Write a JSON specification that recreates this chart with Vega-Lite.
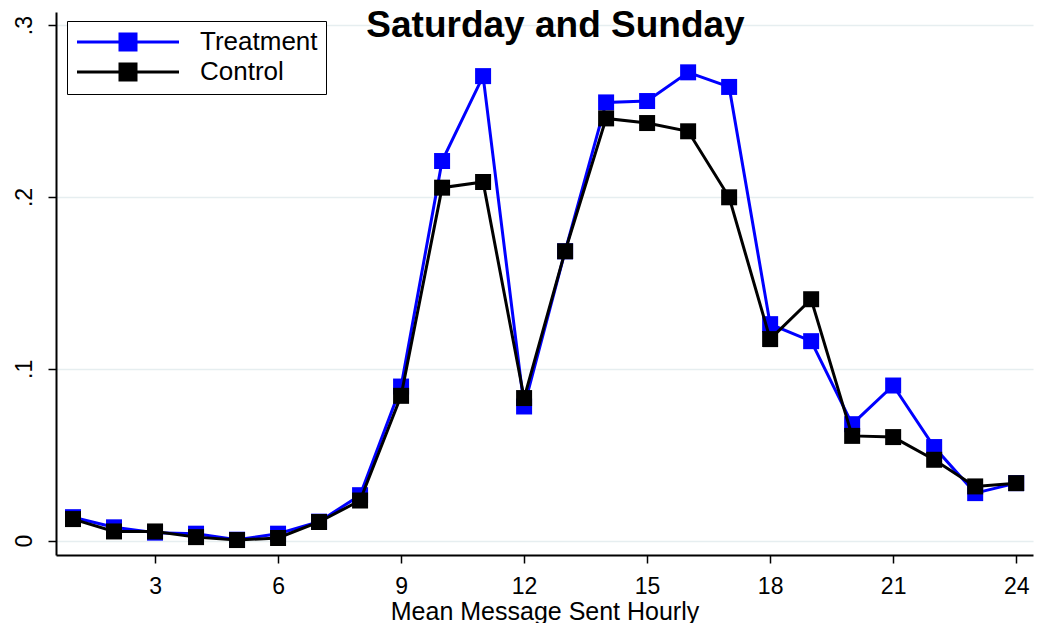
{
  "$schema": "https://vega.github.io/schema/vega-lite/v6.json",
  "width": 977,
  "height": 543,
  "autosize": {"type": "none"},
  "padding": {"left": 56, "top": 12, "right": 5, "bottom": 68},
  "background": "white",
  "config": {
    "view": {"stroke": null},
    "font": "Liberation Sans",
    "legend": {"labelFont": "Liberation Sans"}
  },
  "title": {
    "text": "Saturday and Sunday",
    "fontSize": 37,
    "fontWeight": "bold",
    "font": "Liberation Sans",
    "color": "black",
    "anchor": "middle",
    "offset": -33,
    "dx": 11
  },
  "data": {
    "values": [
      {"hour": 1, "group": "Treatment", "value": 0.0137},
      {"hour": 2, "group": "Treatment", "value": 0.0078},
      {"hour": 3, "group": "Treatment", "value": 0.0047},
      {"hour": 4, "group": "Treatment", "value": 0.0041},
      {"hour": 5, "group": "Treatment", "value": 0.0006},
      {"hour": 6, "group": "Treatment", "value": 0.0041},
      {"hour": 7, "group": "Treatment", "value": 0.0111},
      {"hour": 8, "group": "Treatment", "value": 0.0265},
      {"hour": 9, "group": "Treatment", "value": 0.0897},
      {"hour": 10, "group": "Treatment", "value": 0.2209},
      {"hour": 11, "group": "Treatment", "value": 0.2703},
      {"hour": 12, "group": "Treatment", "value": 0.0781},
      {"hour": 13, "group": "Treatment", "value": 0.1684},
      {"hour": 14, "group": "Treatment", "value": 0.255},
      {"hour": 15, "group": "Treatment", "value": 0.2558},
      {"hour": 16, "group": "Treatment", "value": 0.2725},
      {"hour": 17, "group": "Treatment", "value": 0.264},
      {"hour": 18, "group": "Treatment", "value": 0.126},
      {"hour": 19, "group": "Treatment", "value": 0.1161},
      {"hour": 20, "group": "Treatment", "value": 0.0678},
      {"hour": 21, "group": "Treatment", "value": 0.0903},
      {"hour": 22, "group": "Treatment", "value": 0.0545},
      {"hour": 23, "group": "Treatment", "value": 0.0277},
      {"hour": 24, "group": "Treatment", "value": 0.0335},
      {"hour": 1, "group": "Control", "value": 0.0126},
      {"hour": 2, "group": "Control", "value": 0.0054},
      {"hour": 3, "group": "Control", "value": 0.0054},
      {"hour": 4, "group": "Control", "value": 0.0021},
      {"hour": 5, "group": "Control", "value": 0.0004},
      {"hour": 6, "group": "Control", "value": 0.0016},
      {"hour": 7, "group": "Control", "value": 0.0109},
      {"hour": 8, "group": "Control", "value": 0.0234},
      {"hour": 9, "group": "Control", "value": 0.0843},
      {"hour": 10, "group": "Control", "value": 0.2054},
      {"hour": 11, "group": "Control", "value": 0.2087},
      {"hour": 12, "group": "Control", "value": 0.083},
      {"hour": 13, "group": "Control", "value": 0.1684},
      {"hour": 14, "group": "Control", "value": 0.2457},
      {"hour": 15, "group": "Control", "value": 0.243},
      {"hour": 16, "group": "Control", "value": 0.2382},
      {"hour": 17, "group": "Control", "value": 0.1998},
      {"hour": 18, "group": "Control", "value": 0.1173},
      {"hour": 19, "group": "Control", "value": 0.1405},
      {"hour": 20, "group": "Control", "value": 0.061},
      {"hour": 21, "group": "Control", "value": 0.0603},
      {"hour": 22, "group": "Control", "value": 0.0471},
      {"hour": 23, "group": "Control", "value": 0.0316},
      {"hour": 24, "group": "Control", "value": 0.0335}
    ]
  },
  "encoding": {
    "x": {
      "field": "hour",
      "type": "quantitative",
      "scale": {"domain": [0.585, 24.41], "nice": false, "zero": false},
      "axis": {
        "values": [3, 6, 9, 12, 15, 18, 21, 24],
        "title": "Mean Message Sent Hourly",
        "titleFont": "Liberation Sans",
        "titleFontSize": 25,
        "titleFontWeight": "normal",
        "titleColor": "black",
        "titlePadding": 1,
        "labelFont": "Liberation Sans",
        "labelFontSize": 23,
        "labelColor": "black",
        "labelPadding": 12,
        "labelOverlap": false,
        "tickSize": 8,
        "tickWidth": 1.5,
        "tickColor": "black",
        "domainColor": "black",
        "domainWidth": 2,
        "grid": false
      }
    },
    "y": {
      "field": "value",
      "type": "quantitative",
      "scale": {"domain": [-0.0083, 0.3076], "nice": false, "zero": false},
      "axis": {
        "values": [0, 0.1, 0.2, 0.3],
        "labelExpr": "datum.value == 0 ? '0' : replace(format(datum.value, '.1f'), '0.', '.')",
        "title": null,
        "labelFont": "Liberation Sans",
        "labelFontSize": 23,
        "labelColor": "black",
        "labelAngle": -90,
        "labelPadding": 12,
        "tickSize": 8,
        "tickWidth": 1.5,
        "tickColor": "black",
        "domainColor": "black",
        "domainWidth": 2,
        "grid": true,
        "gridColor": "#e6eef0",
        "gridWidth": 1.5
      }
    },
    "color": {
      "field": "group",
      "type": "nominal",
      "scale": {"domain": ["Treatment", "Control"], "range": ["#0000ff", "#000000"]},
      "legend": {
        "title": null,
        "orient": "none",
        "legendX": 11,
        "legendY": 9,
        "strokeColor": "black",
        "fillColor": "white",
        "padding": 8,
        "labelFontSize": 26,
        "labelColor": "black",
        "labelOffset": 59,
        "rowPadding": 2,
        "symbolType": "M-6.375,0H6.375M-1,-1H1V1H-1Z",
        "symbolSize": 256,
        "symbolOffset": 40,
        "symbolStrokeWidth": 3,
        "encode": {
          "symbols": {
            "update": {
              "fill": {"scale": "color", "field": "value"},
              "stroke": {"scale": "color", "field": "value"},
              "fillOpacity": {"value": 1},
              "strokeWidth": {"value": 3}
            }
          }
        }
      }
    }
  },
  "layer": [
    {
      "transform": [{"filter": "datum.group == 'Treatment'"}],
      "mark": {"type": "line", "strokeWidth": 3}
    },
    {
      "transform": [{"filter": "datum.group == 'Treatment'"}],
      "mark": {"type": "point", "shape": "square", "filled": true, "size": 256, "opacity": 1}
    },
    {
      "transform": [{"filter": "datum.group == 'Control'"}],
      "mark": {"type": "line", "strokeWidth": 3}
    },
    {
      "transform": [{"filter": "datum.group == 'Control'"}],
      "mark": {"type": "point", "shape": "square", "filled": true, "size": 256, "opacity": 1}
    }
  ]
}
